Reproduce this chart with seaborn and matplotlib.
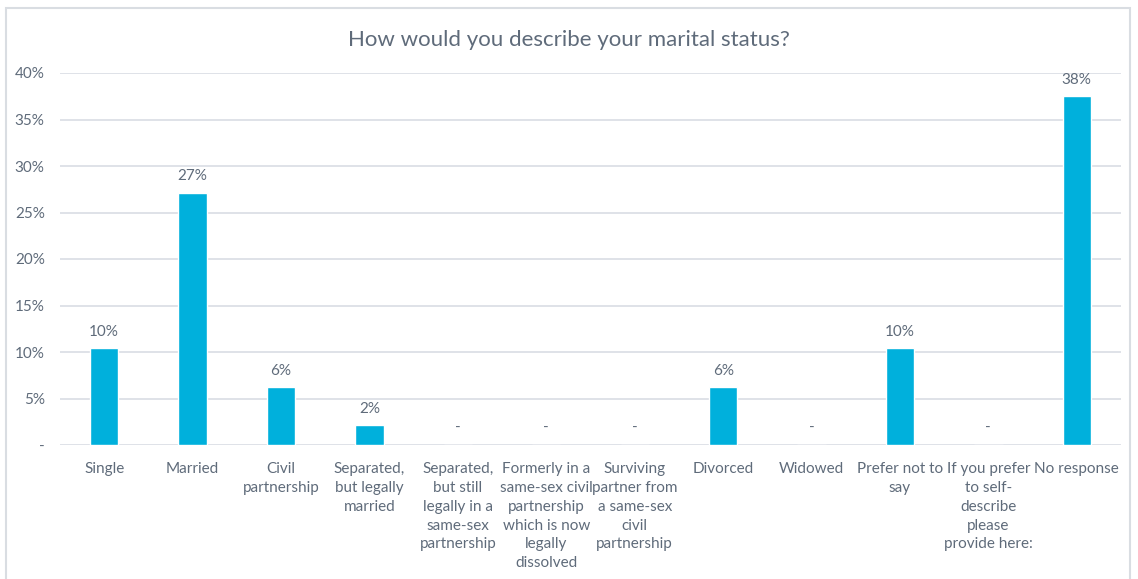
import matplotlib
matplotlib.use("Agg")
import matplotlib.pyplot as plt
import seaborn as sns
import pandas as pd
from matplotlib.patches import Rectangle

categories = [
    "Single", "Married", "Civil\npartnership", "Separated,\nbut legally\nmarried",
    "Separated,\nbut still\nlegally in a\nsame-sex\npartnership",
    "Formerly in a\nsame-sex civil\npartnership\nwhich is now\nlegally\ndissolved",
    "Surviving\npartner from\na same-sex\ncivil\npartnership",
    "Divorced", "Widowed", "Prefer not to\nsay",
    "If you prefer\nto self-\ndescribe\nplease\nprovide here:",
    "No response",
]
values = [0.104, 0.271, 0.062, 0.021, 0.0, 0.0, 0.0, 0.062, 0.0, 0.104, 0.0, 0.375]
yticks = [0, 0.05, 0.10, 0.15, 0.20, 0.25, 0.30, 0.35, 0.40]
ytick_labels = ["-", "5%", "10%", "15%", "20%", "25%", "30%", "35%", "40%"]
title = "How would you describe your marital status?"

sns.set_theme(style="white")
plt.rcParams['font.family'] = ['Lato', 'DejaVu Sans']
text_color = "#5f6b7a"

fig = plt.figure(figsize=(11.38, 5.79), dpi=100)
fig.patches.append(Rectangle((6/1138, -0.01), 1124/1138, 1 - 8/579 + 0.01,
                             transform=fig.transFigure, fill=False,
                             edgecolor="#d9dde2", linewidth=1.5))
ax = fig.add_axes([60/1138, 1 - 445/579, 1061/1138, 372/579])

df = pd.DataFrame({"cat": categories, "val": values})
sns.barplot(data=df, x="cat", y="val", color="#00b0dc", width=0.32,
            saturation=1, ax=ax, zorder=3)

ax.set_ylim(0, 0.40)
ax.set_yticks(yticks)
ax.set_yticklabels(ytick_labels, color=text_color, fontsize=11)
ax.set_xlim(-0.5, len(categories) - 0.5)
ax.tick_params(axis="x", length=0, pad=12)
ax.tick_params(axis="y", length=0, pad=11)
for lbl in ax.get_xticklabels():
    lbl.set_color(text_color)
    lbl.set_fontsize(11)
    lbl.set_verticalalignment("top")
    lbl.set_linespacing(1.45)
ax.set_xlabel("")
ax.set_ylabel("")
ax.grid(axis="y", color="#d9dde4", linewidth=1.2, zorder=0)
for s in ax.spines.values():
    s.set_visible(False)

for i, v in enumerate(values):
    lab = f"{round(v*100):.0f}%" if v > 0 else "-"
    ax.annotate(lab, (i, v), xytext=(0, 7), textcoords="offset points",
                ha="center", va="bottom", color=text_color, fontsize=11)

fig.text(0.5, 1 - 40/579, title, ha="center", va="center",
         fontsize=16, color="#5f6b7a")

fig.savefig("out.png", dpi=100)
